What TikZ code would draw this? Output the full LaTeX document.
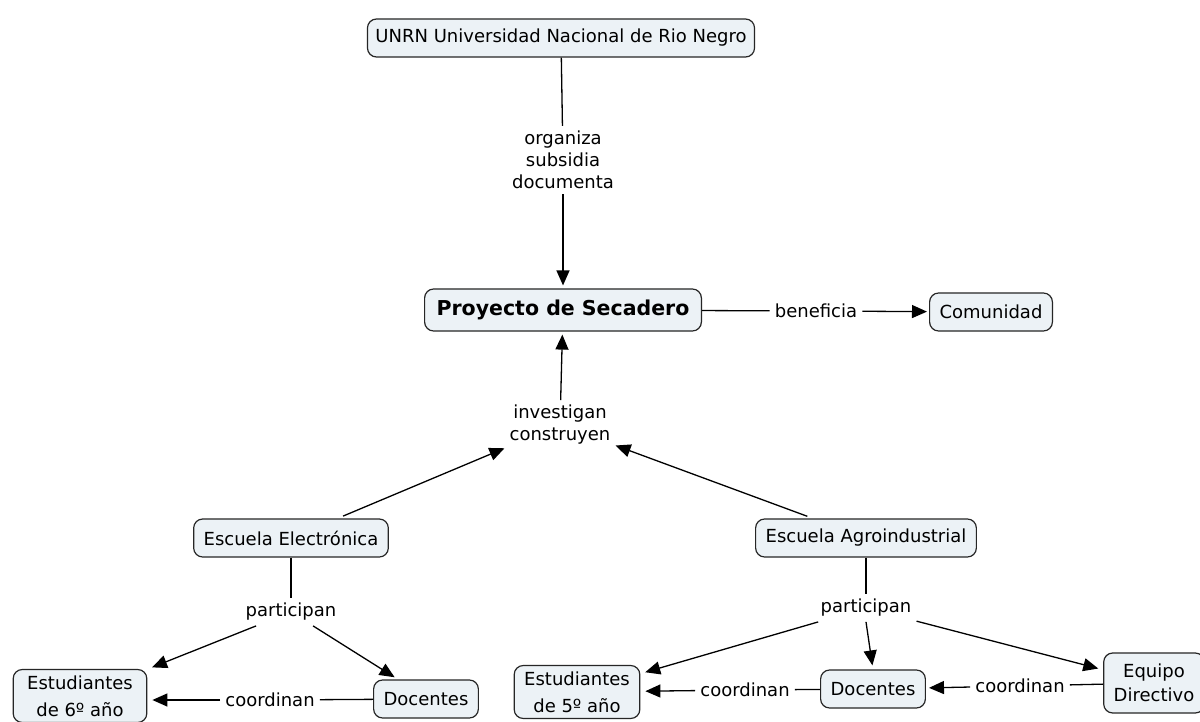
\documentclass[tikz,border=0pt]{standalone}
\usepackage{fontspec}
\setmainfont{DejaVu Sans}
\usetikzlibrary{arrows.meta}
\tikzset{>={Triangle[length=15pt,width=13pt]}}
\definecolor{boxfill}{RGB}{236,242,246}
\tikzset{
  concept/.style={draw=black!85, fill=boxfill, rounded corners=9pt, line width=1.2pt,
    inner xsep=10pt, inner ysep=6pt, minimum height=38pt, align=center,
    font=\fontsize{18}{27}\selectfont},
  lnk/.style={inner sep=5pt, align=center, font=\fontsize{18}{22}\selectfont},
  rel/.style={line width=1.3pt}
}
\begin{document}
\begin{tikzpicture}[x=1pt,y=-1pt]
\useasboundingbox[fill=white] (0,0) rectangle (1200,722);
% concepts
\node[concept, inner xsep=8pt] (unrn) at (561,38) {UNRN Universidad Nacional de Rio Negro};
\node[concept, inner xsep=12pt, minimum height=42pt, font=\bfseries\fontsize{20.5}{24}\selectfont] (proy) at (563,310) {Proyecto de Secadero};
\node[concept] (comu) at (991,312) {Comunidad};
\node[concept] (escE) at (291,538) {Escuela Electrónica};
\node[concept] (escA) at (866,538) {Escuela Agroindustrial};
\node[concept, inner xsep=14pt] (est6) at (80,696) {Estudiantes\\de 6º año};
\node[concept] (docL) at (426,699) {Docentes};
\node[concept] (est5) at (577,692) {Estudiantes\\de 5º año};
\node[concept] (docR) at (873,689) {Docentes};
\node[concept, font=\fontsize{18}{24}\selectfont, minimum height=60pt] (equi) at (1154,683) {Equipo\\Directivo};
% link labels
\node[lnk] (org) at (563,160) {organiza\\subsidia\\documenta};
\node[lnk] (bene) at (816,311) {beneficia};
\node[lnk] (inv) at (560,425) {investigan\\construyen};
\node[lnk] (partL) at (291,612) {participan};
\node[lnk] (partR) at (866,608) {participan};
\node[lnk] (coordL) at (270,700) {coordinan};
\node[lnk] (coordM) at (745,690) {coordinan};
\node[lnk] (coordR) at (1020,686) {coordinan};
% connectors
\draw[rel] (unrn) -- (org);
\draw[rel, ->, shorten >=3pt] (org) -- (proy);
\draw[rel] (proy) -- (bene);
\draw[rel, ->, shorten >=2pt] (bene) -- (comu);
\draw[rel, ->, shorten >=3pt] (inv) -- (proy);
\draw[rel, ->, shorten <=6pt] (escE) -- (inv);
\draw[rel, ->, shorten <=6pt] (escA) -- (inv);
\draw[rel] (escE) -- (partL);
\draw[rel] (escA) -- (partR);
\draw[rel, ->, shorten >=5pt] (partL) -- (est6);
\draw[rel, ->, shorten >=4pt] (partL) -- (docL.145);
\draw[rel, ->, shorten >=5pt] (partR) -- (est5);
\draw[rel, ->, shorten >=4pt] (partR.south) -- (docR.north);
\draw[rel, ->, shorten >=5pt] (partR) -- (equi);
\draw[rel] (docL) -- (coordL);
\draw[rel, ->, shorten >=5pt] (coordL) -- (est6.east |- coordL);
\draw[rel] (docR) -- (coordM);
\draw[rel, ->, shorten >=5pt] (coordM) -- (est5);
\draw[rel] (equi) -- (coordR);
\draw[rel, ->, shorten >=3pt] (coordR) -- (docR);
\end{tikzpicture}
\end{document}
